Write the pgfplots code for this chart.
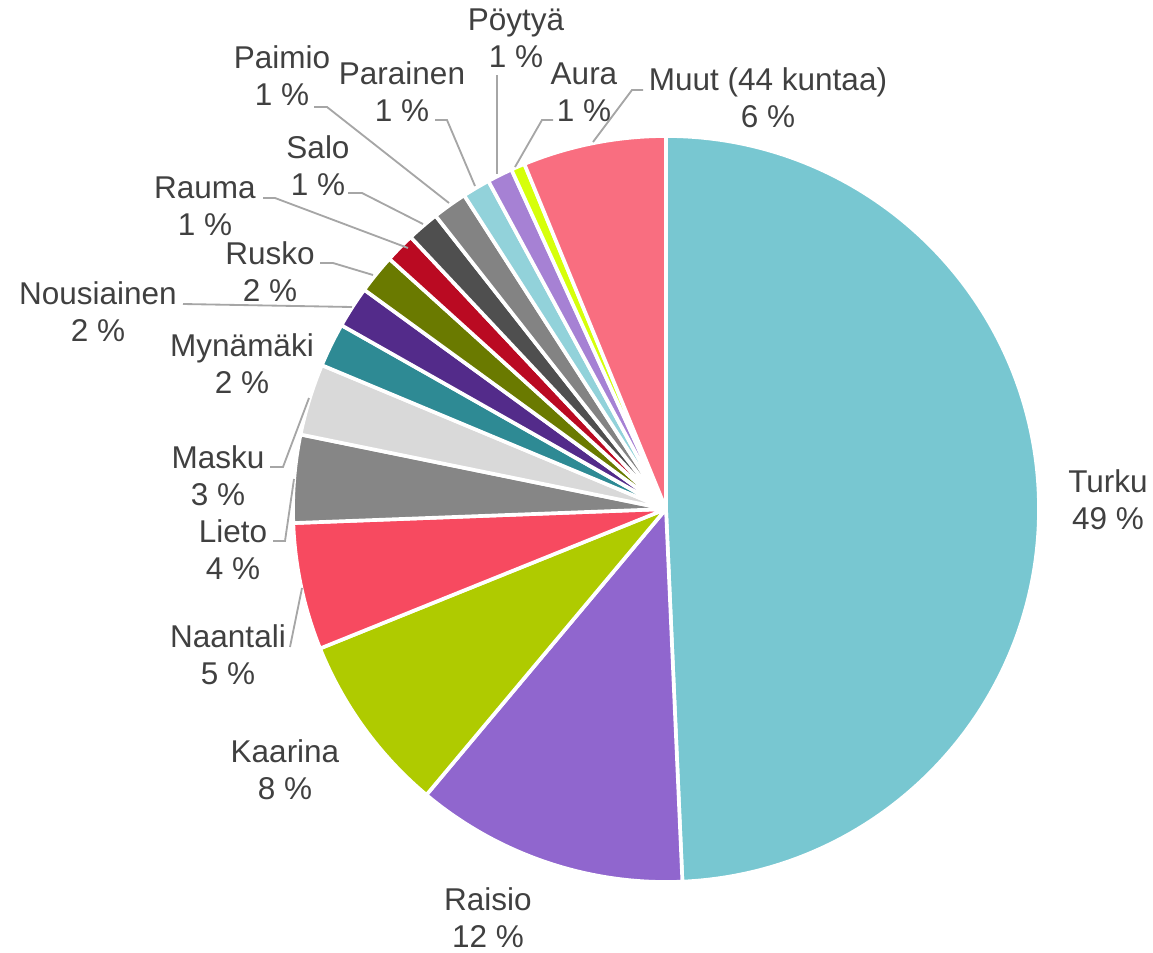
\documentclass[border=0pt]{standalone}
\usepackage{fontspec}
\setmainfont{Liberation Sans}
\usepackage{pgfplots}
\usepackage{pgfplotstable}
\pgfplotsset{compat=1.18}

\definecolor{cTurku}{HTML}{78C7D1}
\definecolor{cRaisio}{HTML}{9066CE}
\definecolor{cKaarina}{HTML}{AFCB00}
\definecolor{cNaantali}{HTML}{F74A60}
\definecolor{cLieto}{HTML}{868686}
\definecolor{cMasku}{HTML}{D9D9D9}
\definecolor{cMynamaki}{HTML}{2E8A94}
\definecolor{cNousiainen}{HTML}{532B8A}
\definecolor{cRusko}{HTML}{6A7A00}
\definecolor{cRauma}{HTML}{BA0A22}
\definecolor{cSalo}{HTML}{4F4F4F}
\definecolor{cPaimio}{HTML}{838383}
\definecolor{cParainen}{HTML}{92D2DA}
\definecolor{cPoytya}{HTML}{A681D4}
\definecolor{cAura}{HTML}{D6FF0A}
\definecolor{cMuut}{HTML}{F96E80}
\definecolor{txt}{HTML}{404040}
\definecolor{lead}{HTML}{A6A6A6}

% share of each municipality, clockwise from 12 o'clock
\pgfplotstableread{
name        val   col
Turku       49.3  cTurku
Raisio      11.8  cRaisio
Kaarina     7.8   cKaarina
Naantali    5.5   cNaantali
Lieto       3.8   cLieto
Masku       3.1   cMasku
Mynamaki    1.9   cMynamaki
Nousiainen  1.8   cNousiainen
Rusko       1.7   cRusko
Rauma       1.3   cRauma
Salo        1.4   cSalo
Paimio      1.5   cPaimio
Parainen    1.2   cParainen
Poytya      1.1   cPoytya
Aura        0.6   cAura
Muut        6.2   cMuut
}\piedata

\begin{document}
\begin{tikzpicture}[
  lbl/.style={font=\fontsize{9.45}{11.1}\selectfont, text=txt, align=center, inner sep=0pt},
  leader/.style={draw=lead, line width=0.55pt},
]
\begin{axis}[
  x=0.3pt, y=0.3pt,
  xmin=0, xmax=1153, ymin=-952, ymax=0,
  hide axis, clip=false,
]
\path (axis cs:0,-952) rectangle (axis cs:1153,0);

\pgfmathsetmacro\cum{0}
\pgfplotsforeachungrouped \i in {0,...,15}{%
  \pgfplotstablegetelem{\i}{val}\of\piedata \let\pval\pgfplotsretval
  \pgfplotstablegetelem{\i}{col}\of\piedata \let\pcol\pgfplotsretval
  \pgfmathsetmacro\sa{90-3.6*\cum}
  \pgfmathsetmacro\cum{\cum+\pval}
  \pgfmathsetmacro\sb{90-3.6*\cum}
  \edef\temp{\noexpand\fill[fill=\pcol, draw=white, line width=1.1pt, line join=round]
    (axis cs:666,-509) -- ++(\sa:111.9pt) arc[start angle=\sa, end angle=\sb, radius=111.9pt] -- cycle;}%
  \temp
}

% leader lines
\draw[leader] (axis cs:290,-647) -- (axis cs:302,-588);
\draw[leader] (axis cs:273,-541) -- (axis cs:285,-541) -- (axis cs:294,-479);
\draw[leader] (axis cs:270,-467) -- (axis cs:283,-467) -- (axis cs:309,-398);
\draw[leader] (axis cs:183,-304) -- (axis cs:352,-307);
\draw[leader] (axis cs:320,-263) -- (axis cs:333,-263) -- (axis cs:373,-275);
\draw[leader] (axis cs:263,-198) -- (axis cs:275,-198) -- (axis cs:408,-248);
\draw[leader] (axis cs:348,-193) -- (axis cs:362,-193) -- (axis cs:423,-224);
\draw[leader] (axis cs:314,-107) -- (axis cs:327,-107) -- (axis cs:449,-203);
\draw[leader] (axis cs:435,-120) -- (axis cs:447,-120) -- (axis cs:475,-186);
\draw[leader] (axis cs:497,-75) -- (axis cs:497,-174);
\draw[leader] (axis cs:553,-120) -- (axis cs:542,-120) -- (axis cs:515,-167);
\draw[leader] (axis cs:643,-90) -- (axis cs:632,-90) -- (axis cs:593,-142);

% labels
\node[lbl] at (axis cs:1108,-500) {Turku\\49 \%};
\node[lbl] at (axis cs:488,-918) {Raisio\\12 \%};
\node[lbl] at (axis cs:285,-770) {Kaarina\\8 \%};
\node[lbl] at (axis cs:228,-655) {Naantali\\5 \%};
\node[lbl] at (axis cs:233,-550) {Lieto\\4 \%};
\node[lbl] at (axis cs:218,-476) {Masku\\3 \%};
\node[lbl] at (axis cs:242,-364) {Mynämäki\\2 \%};
\node[lbl] at (axis cs:98,-312) {Nousiainen\\2 \%};
\node[lbl] at (axis cs:270,-272) {Rusko\\2 \%};
\node[lbl] at (axis cs:205,-206) {Rauma\\1 \%};
\node[lbl] at (axis cs:318,-166) {Salo\\1 \%};
\node[lbl] at (axis cs:282,-76) {Paimio\\1 \%};
\node[lbl] at (axis cs:402,-92) {Parainen\\1 \%};
\node[lbl] at (axis cs:516,-38) {Pöytyä\\1 \%};
\node[lbl] at (axis cs:584,-92) {Aura\\1 \%};
\node[lbl] at (axis cs:768,-98) {Muut (44 kuntaa)\\6 \%};
\end{axis}
\end{tikzpicture}
\end{document}
